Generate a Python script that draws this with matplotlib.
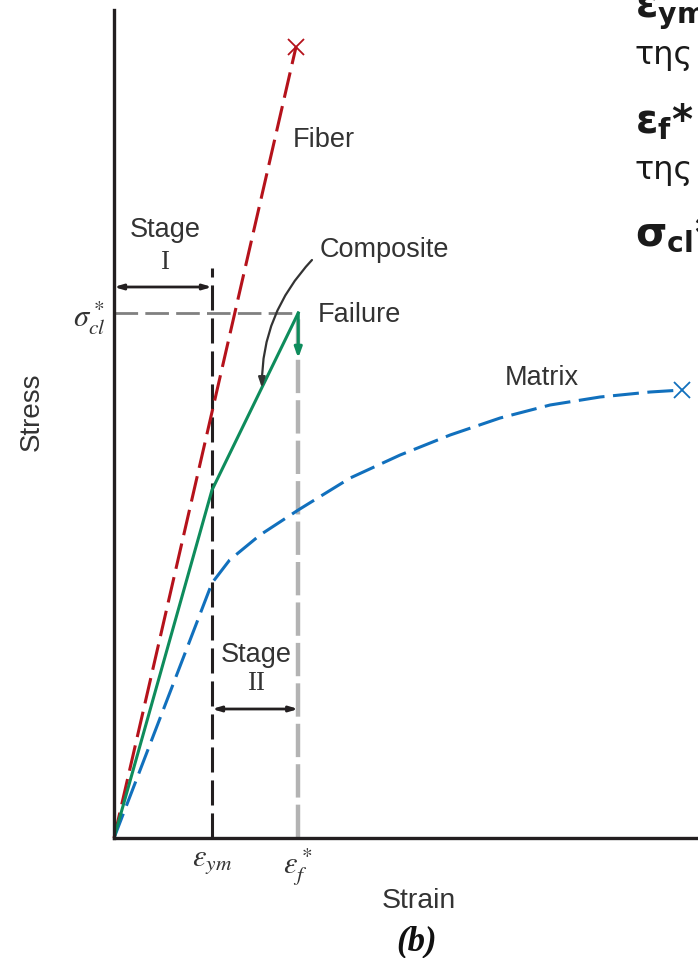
import matplotlib.pyplot as plt
import numpy as np

plt.rcParams['mathtext.fontset'] = 'custom'
plt.rcParams['mathtext.bf'] = 'DejaVu Sans:bold'
plt.rcParams['mathtext.rm'] = 'DejaVu Sans'
plt.rcParams['font.family'] = ['Liberation Sans', 'DejaVu Sans']

# values (arbitrary strain / stress units)
eps_ym = 1.0
eps_f = 1.88
sigma_cl = 5.25

fiber_strain = [0.0, 1.857]
fiber_stress = [0.0, 7.91]

composite_strain = [0.0, 1.0, 1.88]
composite_stress = [0.0, 3.48, 5.25]
composite_drop = [5.25, 4.80]

matrix_strain = [0.0, 1.0, 1.18, 1.49, 1.88, 2.41, 2.92, 3.43, 3.94, 4.45, 4.96, 5.47, 5.80]
matrix_stress = [0.0, 2.55, 2.78, 3.03, 3.28, 3.60, 3.83, 4.03, 4.20, 4.33, 4.41, 4.46, 4.48]

tick_labels_x = [r'$\varepsilon_{ym}$', r'$\varepsilon_f^*$']
tick_label_y = r'$\sigma_{cl}^*$'

W, H = 698, 958
fig = plt.figure(figsize=(W / 100, H / 100), dpi=100)
ax = fig.add_axes([114 / W, 120 / H, 584 / W, 828 / H])

red = '#b5121b'
green = '#0e8c5c'
blue = '#1170bd'
black = '#231f20'
grey_text = '#333333'

# reference lines
ax.plot([eps_ym, eps_ym], [0, 5.70], color=black, lw=2.2, ls=(0, (8.2, 2.6)))
ax.plot([eps_f, eps_f], [0, sigma_cl], color='#b3b3b3', lw=3.2, ls=(0, (7.5, 1.6)))
ax.plot([0, eps_f], [sigma_cl, sigma_cl], color='#808080', lw=2.0, ls=(0, (8.5, 2.6)))

# curves
ax.plot(fiber_strain, fiber_stress, color=red, lw=2.2, ls=(0, (8.5, 2.8)), clip_on=False)
ax.plot(fiber_strain[-1], fiber_stress[-1], 'x', color=red, ms=11, mew=1.3, clip_on=False)
ax.plot(matrix_strain, matrix_stress, color=blue, lw=2.2, ls=(0, (8.5, 2.8)))
ax.plot(matrix_strain[-1], matrix_stress[-1], 'x', color=blue, ms=11, mew=1.3)
ax.plot(composite_strain, composite_stress, color=green, lw=2.2)
ax.annotate('', xy=(eps_f, composite_drop[1]), xytext=(eps_f, composite_drop[0]),
            arrowprops=dict(arrowstyle='-|>,head_length=0.6,head_width=0.22',
                            color=green, lw=2.2, shrinkA=0, shrinkB=0))

# stage arrows
ax.annotate('', xy=(0, 5.51), xytext=(eps_ym, 5.51),
            arrowprops=dict(arrowstyle='<|-|>,head_length=0.5,head_width=0.15',
                            color=black, lw=2.0, shrinkA=0, shrinkB=0))
ax.annotate('', xy=(eps_ym, 1.29), xytext=(eps_f, 1.29),
            arrowprops=dict(arrowstyle='<|-|>,head_length=0.5,head_width=0.15',
                            color=black, lw=2.0, shrinkA=0, shrinkB=0))

fs = 19.5
ax.text(0.52, 6.08, 'Stage', ha='center', va='center', fontsize=fs, color=grey_text)
ax.text(0.52, 5.75, 'I', ha='center', va='center', fontsize=fs, color=grey_text, family='Liberation Serif')
ax.text(1.45, 1.83, 'Stage', ha='center', va='center', fontsize=fs, color=grey_text)
ax.text(1.45, 1.54, 'II', ha='center', va='center', fontsize=fs, color=grey_text, family='Liberation Serif')
ax.text(1.82, 6.98, 'Fiber', ha='left', va='center', fontsize=fs, color=grey_text)
ax.text(2.10, 5.88, 'Composite', ha='left', va='center', fontsize=fs, color=grey_text)
ax.text(2.08, 5.23, 'Failure', ha='left', va='center', fontsize=fs, color=grey_text)
ax.text(3.99, 4.60, 'Matrix', ha='left', va='center', fontsize=fs, color=grey_text)

# curved pointer from "Composite" to the composite line
ax.annotate('', xy=(1.51, 4.50), xytext=(2.02, 5.78),
            arrowprops=dict(arrowstyle='-|>,head_length=0.6,head_width=0.2',
                            color=grey_text, lw=1.6, connectionstyle='arc3,rad=0.2',
                            shrinkA=0, shrinkB=0))

ax.set_xlim(0, 584 / 98)
ax.set_ylim(0, 8.28)
for s in ['top', 'right']:
    ax.spines[s].set_visible(False)
for s in ['left', 'bottom']:
    ax.spines[s].set_linewidth(2.4)
    ax.spines[s].set_color(black)
    ax.spines[s].set_capstyle('projecting')

ax.set_xticks([eps_ym, eps_f])
ax.set_xticklabels(tick_labels_x, fontsize=22, math_fontfamily='stix', color=grey_text)
ax.set_yticks([sigma_cl])
ax.set_yticklabels([tick_label_y], fontsize=22, math_fontfamily='stix', color=grey_text)
ax.tick_params(length=0, pad=6)

fig.text(32 / W, 1 - 412 / H, 'Stress', rotation=90, ha='center', va='center', fontsize=20, color=grey_text)
fig.text(419 / W, 1 - 901 / H, 'Strain', ha='center', va='center', fontsize=20.5, color=grey_text)
fig.text(417 / W, 1 - 942 / H, '(b)', ha='center', va='center', fontsize=25,
         family='Liberation Serif', weight='bold', style='italic', color='#111111')

# explanatory text, cut off at the right edge as in the original
kw = dict(ha='left', va='baseline', color='#1a1a1a', family='DejaVu Sans')
fig.text(635 / W, 1 - 17 / H, r'$\mathbf{ε}_{\mathbf{ym}}$', fontsize=29, math_fontfamily='custom', **kw)
fig.text(635 / W, 1 - 64 / H, 'της', fontsize=23, **kw)
fig.text(635 / W, 1 - 133 / H, r'$\mathbf{ε}_{\mathbf{f}}$' + '*', fontsize=29, weight='bold',
         math_fontfamily='custom', **kw)
fig.text(635 / W, 1 - 179 / H, 'της', fontsize=23, **kw)
fig.text(635 / W, 1 - 245 / H, r'$\mathbf{σ}_{\mathbf{cl}}$' + '*', fontsize=29, weight='bold',
         math_fontfamily='custom', **kw)

fig.savefig('out.png', dpi=100)
